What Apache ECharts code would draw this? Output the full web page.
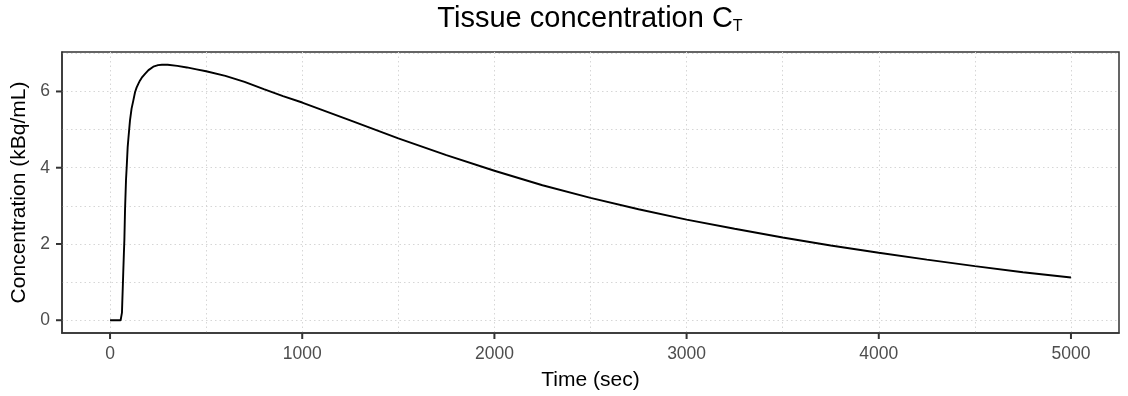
<!DOCTYPE html>
<html>
<head>
<meta charset="utf-8">
<script src="https://cdn.jsdelivr.net/npm/echarts@6/dist/echarts.min.js"></script>
<style>
html,body{margin:0;padding:0;background:#fff;}
#chart{width:1128px;height:396px;}
</style>
</head>
<body>
<div id="chart"></div>
<script>
// Time (sec)
var timeSec = [0, 30, 55, 60, 62, 64, 66.5, 69, 72, 74.5, 78, 83, 87, 91.7, 96, 103.8, 112, 121, 130, 138, 147, 156, 165, 182, 200, 225, 250, 270, 300, 350, 400, 450, 500, 600, 700, 800, 900, 1000, 1250, 1500, 1750, 2000, 2250, 2500, 2750, 3000, 3250, 3500, 3750, 4000, 4250, 4500, 4750, 5000];
// Tissue concentration C_T (kBq/mL)
var concentration = [0, 0, 0, 0.03, 0.2, 0.52, 0.9, 1.3, 1.75, 2.1, 2.9, 3.67, 4.05, 4.54, 4.8, 5.24, 5.55, 5.76, 5.98, 6.1, 6.2, 6.29, 6.36, 6.46, 6.56, 6.65, 6.69, 6.70, 6.70, 6.67, 6.63, 6.58, 6.53, 6.41, 6.25, 6.06, 5.88, 5.71, 5.24, 4.77, 4.33, 3.92, 3.54, 3.21, 2.91, 2.64, 2.40, 2.17, 1.96, 1.77, 1.59, 1.42, 1.26, 1.12];

var xTickLabels = [0, 1000, 2000, 3000, 4000, 5000];
var xGridValues = [0, 500, 1000, 1500, 2000, 2500, 3000, 3500, 4000, 4500, 5000];
var yTickLabels = [0, 2, 4, 6];
var yGridValues = [0, 1, 2, 3, 4, 5, 6, 7];

var xMin = -250, xMax = 5250;
var yMin = -0.335, yMax = 7.035;

var points = timeSec.map(function (t, i) { return [t, concentration[i]]; });
var xTickData = xTickLabels.map(function (v) { return [v, yMin]; });
var yTickData = yTickLabels.map(function (v) { return [xMin, v]; });

var FONT = 'Liberation Sans, Arial, Helvetica, sans-serif';
var TICK_LEN = 6;
var TICK_W = 2;
var gridLine = { show: true, lineStyle: { color: '#d6d6d6', type: [1.5, 3], width: 1 } };
var plain = function (v) { return String(v); };
var frame = { show: true, onZero: false, lineStyle: { color: '#333333', width: 1.5 } };

var chart = echarts.init(document.getElementById('chart'), null, { renderer: 'canvas' });
chart.setOption({
  backgroundColor: '#ffffff',
  animation: false,
  title: {
    text: '{m|Tissue concentration C}{s|T}',
    left: 590,
    top: 4,
    padding: 0,
    textAlign: 'center',
    textStyle: {
      fontWeight: 'normal',
      rich: {
        m: { fontSize: 29, fontFamily: FONT, fontWeight: 'normal', color: '#000', lineHeight: 31, verticalAlign: 'top' },
        s: { fontSize: 16, fontFamily: FONT, fontWeight: 'normal', color: '#000', lineHeight: 16, verticalAlign: 'bottom' }
      }
    }
  },
  grid: {
    left: 62, right: 9, top: 52, bottom: 63,
    show: true, borderColor: '#333333', borderWidth: 1.5,
    backgroundColor: 'transparent'
  },
  xAxis: [
    {
      type: 'value', min: xMin, max: xMax, position: 'bottom',
      axisLine: frame,
      axisTick: { show: false },
      axisLabel: { show: true, customValues: xTickLabels, formatter: plain, margin: 12, color: '#4d4d4d', fontSize: 17.5, fontFamily: FONT },
      splitLine: { show: false },
      name: 'Time (sec)', nameLocation: 'middle', nameGap: 37,
      nameTextStyle: { color: '#000', fontSize: 21, fontFamily: FONT }
    },
    {
      type: 'value', min: xMin, max: xMax, position: 'bottom',
      axisLine: { show: false, onZero: false },
      axisTick: { show: false, customValues: xGridValues },
      axisLabel: { show: false },
      splitLine: gridLine
    }
  ],
  yAxis: [
    {
      type: 'value', min: yMin, max: yMax, position: 'left',
      axisLine: frame,
      axisTick: { show: false },
      axisLabel: { show: true, customValues: yTickLabels, formatter: plain, margin: 12, color: '#4d4d4d', fontSize: 17.5, fontFamily: FONT },
      splitLine: { show: false },
      name: 'Concentration (kBq/mL)', nameLocation: 'middle', nameGap: 30,
      nameTextStyle: { color: '#000', fontSize: 21, fontFamily: FONT }
    },
    {
      type: 'value', min: yMin, max: yMax, position: 'left',
      axisLine: { show: false, onZero: false },
      axisTick: { show: false, customValues: yGridValues },
      axisLabel: { show: false },
      splitLine: gridLine
    }
  ],
  series: [
    {
      type: 'line',
      xAxisIndex: 0, yAxisIndex: 0,
      data: points,
      showSymbol: false,
      smooth: false,
      lineStyle: { color: '#000000', width: 1.9 },
      z: 5
    },
    {
      type: 'scatter',
      xAxisIndex: 0, yAxisIndex: 0,
      data: xTickData,
      clip: false,
      silent: true,
      symbol: 'rect',
      symbolSize: [TICK_W, TICK_LEN],
      symbolOffset: [0, TICK_LEN / 2],
      itemStyle: { color: '#333333', opacity: 1 },
      z: 20,
      zlevel: 1
    },
    {
      type: 'scatter',
      xAxisIndex: 0, yAxisIndex: 0,
      data: yTickData,
      clip: false,
      silent: true,
      symbol: 'rect',
      symbolSize: [TICK_LEN, TICK_W],
      symbolOffset: [-TICK_LEN / 2, 0],
      itemStyle: { color: '#333333', opacity: 1 },
      z: 20,
      zlevel: 1
    }
  ]
});
</script>
</body>
</html>
